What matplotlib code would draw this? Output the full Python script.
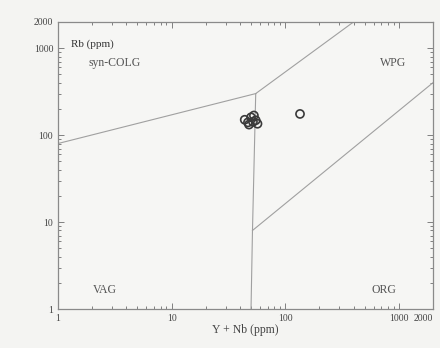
import matplotlib
matplotlib.use("Agg")
import matplotlib.pyplot as plt
from matplotlib.ticker import NullFormatter, LogLocator

plt.rcParams['font.family'] = ['Liberation Serif', 'DejaVu Serif']

# Sample data (Y+Nb, Rb) in ppm
ynb = [44, 48, 50, 52, 55, 57, 53, 47, 135]
rb = [150, 132, 160, 142, 148, 135, 168, 140, 175]

# Discrimination boundaries (Pearce et al. 1984)
b1_x = [1, 55]; b1_y = [80, 300]          # syn-COLG / VAG
b2_x = [55, 400]; b2_y = [300, 2000]      # syn-COLG / WPG
b3_x = [55, 51.5, 50]; b3_y = [300, 8, 1] # VAG / WPG
b4_x = [51.5, 2000]; b4_y = [8, 400]      # WPG / ORG

xticks = [1, 10, 100, 1000, 2000]
xtick_labels = ['1', '10', '100', '1000', '2000']
yticks = [1, 10, 100, 1000, 2000]
ytick_labels = ['1', '10', '100', '1000', '2000']

fig = plt.figure(figsize=(4.4, 3.48), dpi=100)
fig.patch.set_facecolor('#f4f4f2')
ax = fig.add_axes([0.132, 0.112, 0.852, 0.825])
ax.set_facecolor('#f6f6f4')
ax.set_xscale('log'); ax.set_yscale('log')
ax.set_xlim(1, 2000); ax.set_ylim(1, 2000)

lc = '#a0a0a0'
for xs, ys in [(b1_x, b1_y), (b2_x, b2_y), (b3_x, b3_y), (b4_x, b4_y)]:
    ax.plot(xs, ys, color=lc, lw=0.8)

ax.scatter(ynb, rb, s=34, facecolors='none', edgecolors='#3a3a3a', linewidths=1.2, zorder=3)

ax.set_xticks(xticks)
ax.set_xticklabels(xtick_labels)
ax.set_yticks(yticks)
ax.set_yticklabels(ytick_labels)
ax.xaxis.set_minor_locator(LogLocator(base=10, subs=range(2, 10)))
ax.yaxis.set_minor_locator(LogLocator(base=10, subs=range(2, 10)))
ax.xaxis.set_minor_formatter(NullFormatter())
ax.yaxis.set_minor_formatter(NullFormatter())
labs = ax.get_xticklabels()
labs[-1].set_ha('right')
ax.tick_params(which='both', direction='in', top=True, right=True, colors='#808080',
               labelcolor='#444444', labelsize=7, width=0.7)
ax.tick_params(which='major', length=4)
ax.tick_params(which='minor', length=2)
for s in ax.spines.values():
    s.set_color('#8a8a8a'); s.set_linewidth(0.9)

tc = '#555555'
ax.text(0.035, 0.923, 'Rb (ppm)', transform=ax.transAxes, fontsize=8, color='#333333', va='center')
ax.text(0.08, 0.857, 'syn-COLG', transform=ax.transAxes, fontsize=8.5, color=tc, va='center')
ax.text(0.893, 0.857, 'WPG', transform=ax.transAxes, fontsize=8.5, color=tc, va='center', ha='center')
ax.text(0.125, 0.066, 'VAG', transform=ax.transAxes, fontsize=8.5, color=tc, va='center', ha='center')
ax.text(0.87, 0.066, 'ORG', transform=ax.transAxes, fontsize=8.5, color=tc, va='center', ha='center')
ax.set_xlabel('Y + Nb (ppm)', fontsize=8.5, color='#444444', labelpad=1)

fig.savefig('out.png', dpi=100, facecolor=fig.get_facecolor())
